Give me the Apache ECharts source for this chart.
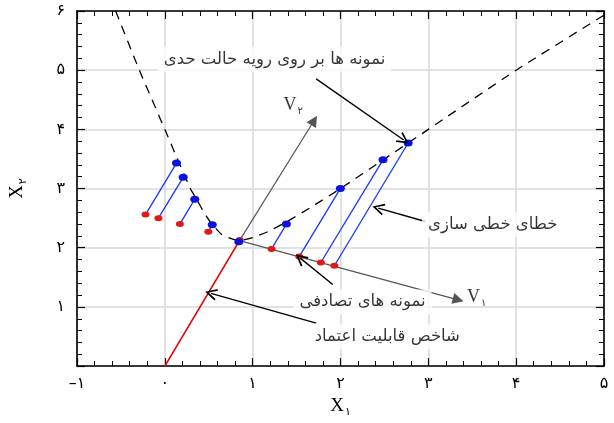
<!DOCTYPE html>
<html><head><meta charset="utf-8">
<script src="https://cdn.jsdelivr.net/npm/echarts@6/dist/echarts.min.js"></script>
<style>html,body{margin:0;padding:0;background:#fff}#c{width:614px;height:423px}</style>
</head><body><div id="c"></div>
<script>
// ---- data ----
const xTicks = [-1, 0, 1, 2, 3, 4, 5];
const xTickLabels = ['–۱', '۰', '۱', '۲', '۳', '۴', '۵'];
const yTicks = [0, 1, 2, 3, 4, 5, 6];
const yTickLabels = ['', '۱', '۲', '۳', '۴', '۵', '۶'];

const limitStateCurve = [
  [-0.56, 6.0], [-0.29, 5.0], [0.0, 4.0], [0.29, 3.0], [0.37, 2.8], [0.44, 2.61],
  [0.52, 2.43], [0.65, 2.22], [0.78, 2.14], [0.85, 2.12],
  [1.0, 2.17], [1.2, 2.29], [1.4, 2.45], [1.67, 2.69], [2.0, 3.0], [2.5, 3.5],
  [3.0, 4.0], [4.0, 5.0], [5.0, 5.93]
];
const origin = [0, 0];
const designPoint = [0.85, 2.12];
const randomSamples = [
  [-0.22, 2.56], [-0.073, 2.50], [0.171, 2.40], [0.495, 2.27], [0.853, 2.13],
  [1.215, 1.98], [1.53, 1.85], [1.776, 1.75], [1.93, 1.695]
];
const surfaceSamples = [
  [0.133, 3.43], [0.209, 3.19], [0.341, 2.82], [0.54, 2.39], [0.842, 2.10],
  [1.384, 2.40], [1.998, 3.00], [2.484, 3.485], [2.77, 3.77]
];
const v1Tip = [3.34, 1.12];
const v2Tip = [1.70, 4.15];

const labelTexts = [
  'نمونه ها بر روی رویه حالت حدی',
  'خطای خطی سازی',
  'نمونه های تصادفی',
  'شاخص قابلیت اعتماد'
];
const labelAnchors = [[1.249, 5.183], [3.734, 2.393], [2.251, 1.085], [2.533, 0.504]];
const arrowStarts = [[1.723, 4.853], [2.966, 2.443], [1.912, 1.379], [1.723, 0.726]];
const arrowEnds = [[2.72, 3.82], [2.43, 2.67], [1.545, 1.82], [0.525, 1.23]];
const vLabelAnchors = [[3.55, 1.16], [1.46, 4.41]];
const vLabelTexts = ['{v|V}{s|۱}', '{v|V}{s|۲}'];

// ---- chart ----
const chart = echarts.init(document.getElementById('c'));
const serif = '"Liberation Serif","DejaVu Serif",serif';
const arabicFont = '"DejaVu Sans","Liberation Serif",serif';
const chevron = 'path://M5,0 L10,10 L8.6,10.6 L5,3 L1.4,10.6 L0,10 Z';

function axisCommon(show) {
  return {
    type: 'value',
    axisLine: { show: true, onZero: false, lineStyle: { color: '#000', width: 1.6 } },
    axisTick: { show: true, inside: true, length: 8, lineStyle: { color: '#000', width: 1.2 } },
    minorTick: { show: true, splitNumber: 5, length: 5, lineStyle: { color: '#000', width: 1 } },
    splitLine: { show: show, lineStyle: { color: '#d9d9d9', width: 1.5 } },
    minorSplitLine: { show: false }
  };
}

const xBottom = Object.assign(axisCommon(true), {
  min: -1, max: 5, interval: 1, position: 'bottom',
  axisLabel: { formatter: v => xTickLabels[xTicks.indexOf(v)], margin: 10, fontSize: 16, color: '#000', fontFamily: arabicFont },
  name: '{v|X}{s|۱}', nameLocation: 'middle', nameGap: 26,
  nameTextStyle: { rich: { v: { fontSize: 19, fontFamily: serif, color: '#000' }, s: { fontSize: 11, fontFamily: arabicFont, padding: [12, 0, 0, 1], color: '#000' } } }
});
const xTop = Object.assign(axisCommon(false), {
  min: -1, max: 5, interval: 1, position: 'top', axisLabel: { show: false }
});
const yLeft = Object.assign(axisCommon(true), {
  min: 0, max: 6, interval: 1, position: 'left',
  axisLabel: { formatter: v => yTickLabels[yTicks.indexOf(v)], margin: 12, fontSize: 16, color: '#000', fontFamily: arabicFont },
  name: '{v|X}{s|۲}', nameLocation: 'middle', nameGap: 48, nameRotate: 90,
  nameTextStyle: { rich: { v: { fontSize: 19, fontFamily: serif, color: '#000' }, s: { fontSize: 11, fontFamily: arabicFont, padding: [12, 0, 0, 1], color: '#000' } } }
});
const yRight = Object.assign(axisCommon(false), {
  min: 0, max: 6, interval: 1, position: 'right', axisLabel: { show: false }
});

const sampleLinks = randomSamples.map((r, i) => ({ coords: [r, surfaceSamples[i]] }));
const annoArrows = arrowStarts.map((s, i) => ({ coords: [s, arrowEnds[i]] }));

chart.setOption({
  animation: false,
  backgroundColor: '#fff',
  grid: { left: 73, right: 10, top: 11, bottom: 51 },
  xAxis: [xBottom, xTop],
  yAxis: [yLeft, yRight],
  series: [
    { type: 'line', data: limitStateCurve, smooth: 0.15, showSymbol: false, symbol: 'none',
      lineStyle: { color: '#000', width: 1.3, type: [9, 7] }, z: 3 },
    { type: 'lines', coordinateSystem: 'cartesian2d', data: [{ coords: [origin, designPoint] }],
      lineStyle: { color: '#e00000', width: 1.6, opacity: 1 }, symbol: ['none', 'none'], z: 3 },
    { type: 'lines', coordinateSystem: 'cartesian2d',
      data: [{ coords: [designPoint, v1Tip] }, { coords: [designPoint, v2Tip] }],
      lineStyle: { color: '#555', width: 1.2, opacity: 1 }, symbol: ['none', 'triangle'], symbolSize: 11,
      itemStyle: { color: '#555' }, z: 3 },
    { type: 'lines', coordinateSystem: 'cartesian2d', data: sampleLinks,
      lineStyle: { color: '#1438ff', width: 1.3, opacity: 1 }, symbol: ['none', 'none'], z: 4 },
    { type: 'scatter', data: randomSamples, symbol: 'circle', symbolSize: [8, 6],
      itemStyle: { color: '#e21818', opacity: 1 }, z: 5 },
    { type: 'scatter', data: surfaceSamples, symbol: 'circle', symbolSize: [9, 7],
      itemStyle: { color: '#0a12e0', opacity: 1 }, z: 5 },
    { type: 'lines', coordinateSystem: 'cartesian2d', data: annoArrows,
      lineStyle: { color: '#000', width: 1.4, opacity: 1 }, symbol: ['none', chevron], symbolSize: 12,
      itemStyle: { color: '#000' }, z: 6 },
    { type: 'scatter', symbolSize: 1, itemStyle: { color: 'rgba(0,0,0,0)' }, z: 7,
      data: labelAnchors.map((a, i) => ({ value: a, label: { formatter: labelTexts[i] } })),
      label: { show: true, position: 'inside', color: '#000', fontSize: 16.5, fontFamily: arabicFont,
        backgroundColor: '#fff', padding: [4, 6] } },
    { type: 'scatter', symbolSize: 1, itemStyle: { color: 'rgba(0,0,0,0)' }, z: 7,
      data: vLabelAnchors.map((a, i) => ({ value: a, label: { formatter: vLabelTexts[i] } })),
      label: { show: true, position: 'inside', color: '#000',
        rich: { v: { fontSize: 18, fontFamily: serif, color: '#000' }, s: { fontSize: 10, fontFamily: arabicFont, padding: [12, 0, 0, 1], color: '#000' } } } }
  ]
});
</script></body></html>
